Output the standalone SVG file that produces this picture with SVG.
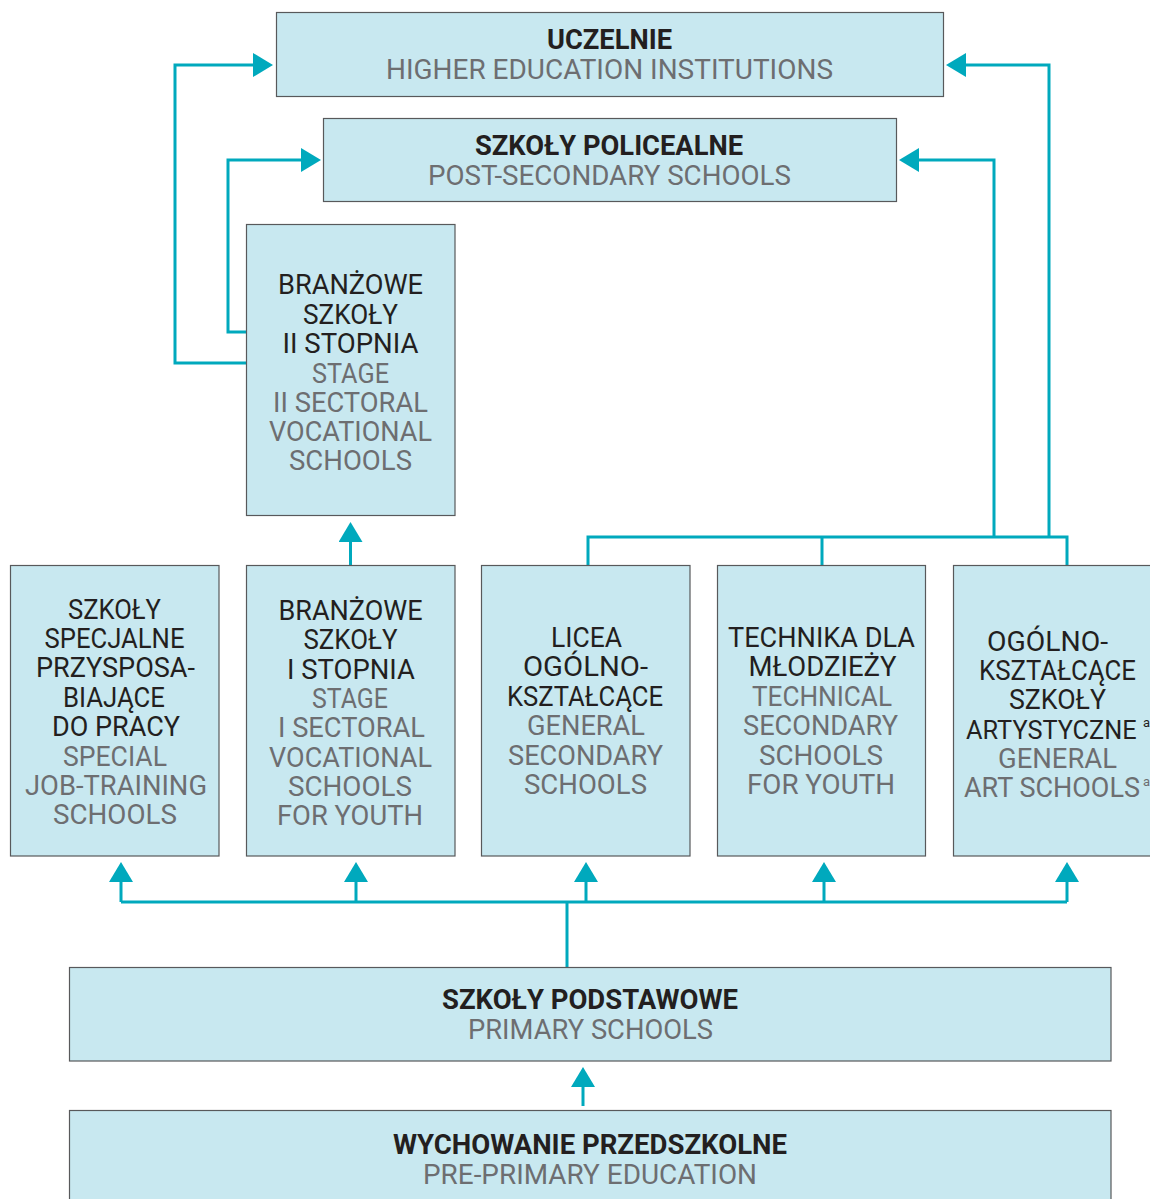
<svg xmlns="http://www.w3.org/2000/svg" width="1150" height="1199" viewBox="0 0 1150 1199">
<style>
.box{fill:#c8e8f0;stroke:#58595b;stroke-width:1.2}
.t{font-family:Roboto,"Liberation Sans",sans-serif;font-size:27px;text-anchor:middle}
.s{font-family:Roboto,"Liberation Sans",sans-serif;font-size:27px;text-anchor:start}
.sup{font-family:Roboto,"Liberation Sans",sans-serif;font-size:13px;text-anchor:start}
.k{fill:#231f20}
.g{fill:#6d6e71}
.b{font-weight:700}
.c{fill:none;stroke:#00a9bd;stroke-width:3;stroke-linejoin:miter}
</style>
<defs>
<marker id="ah" viewBox="0 0 20 24" refX="0" refY="12" markerWidth="20" markerHeight="24" markerUnits="userSpaceOnUse" orient="auto">
<path d="M0,0 L20,12 L0,24 Z" fill="#00a9bd"/>
</marker>
</defs>
<rect width="1150" height="1199" fill="#ffffff"/>

<g id="connectors">
<path class="c" d="M246,363 H175 V65 H253" marker-end="url(#ah)"/>
<path class="c" d="M246,332 H228 V160 H301" marker-end="url(#ah)"/>
<path class="c" d="M1049,537 V65 H966" marker-end="url(#ah)"/>
<path class="c" d="M994,537 V160 H919" marker-end="url(#ah)"/>
<path class="c" d="M588,565 V537 H1067 V565"/>
<path class="c" d="M822,537 V565"/>
<path class="c" d="M350.5,565 V542" marker-end="url(#ah)"/>
<path class="c" d="M121,902 H1067"/>
<path class="c" d="M567,967 V902"/>
<path class="c" d="M121,902 V882" marker-end="url(#ah)"/>
<path class="c" d="M356,902 V882" marker-end="url(#ah)"/>
<path class="c" d="M586,902 V882" marker-end="url(#ah)"/>
<path class="c" d="M824,902 V882" marker-end="url(#ah)"/>
<path class="c" d="M1067,902 V882" marker-end="url(#ah)"/>
<path class="c" d="M583,1106 V1087" marker-end="url(#ah)"/>
</g>

<g id="uczelnie">
<rect class="box" x="276.5" y="12.5" width="667" height="84"/>
<text class="t k b" x="609.5" y="48.5" textLength="125" lengthAdjust="spacingAndGlyphs">UCZELNIE</text>
<text class="t g" x="609.5" y="78.5" textLength="447" lengthAdjust="spacingAndGlyphs">HIGHER EDUCATION INSTITUTIONS</text>
</g>

<g id="policealne">
<rect class="box" x="323.5" y="118.5" width="573" height="83"/>
<text class="t k b" x="609" y="155" textLength="268" lengthAdjust="spacingAndGlyphs">SZKOŁY POLICEALNE</text>
<text class="t g" x="609.5" y="184.5" textLength="363" lengthAdjust="spacingAndGlyphs">POST-SECONDARY SCHOOLS</text>
</g>

<g id="branzowe2">
<rect class="box" x="246.5" y="224.5" width="208.5" height="291"/>
<text class="t k" x="350.5" y="294" textLength="145" lengthAdjust="spacingAndGlyphs">BRANŻOWE</text>
<text class="t k" x="350.5" y="323.5" textLength="95" lengthAdjust="spacingAndGlyphs">SZKOŁY</text>
<text class="t k" x="350.5" y="353" textLength="136" lengthAdjust="spacingAndGlyphs">II STOPNIA</text>
<text class="t g" x="350.5" y="382.5" textLength="77" lengthAdjust="spacingAndGlyphs">STAGE</text>
<text class="t g" x="350.5" y="412" textLength="155" lengthAdjust="spacingAndGlyphs">II SECTORAL</text>
<text class="t g" x="350.5" y="441" textLength="163" lengthAdjust="spacingAndGlyphs">VOCATIONAL</text>
<text class="t g" x="350.5" y="470" textLength="123" lengthAdjust="spacingAndGlyphs">SCHOOLS</text>
</g>

<g id="specjalne">
<rect class="box" x="10.5" y="565.5" width="208.5" height="290.5"/>
<text class="t k" x="114.5" y="618.5" textLength="93" lengthAdjust="spacingAndGlyphs">SZKOŁY</text>
<text class="t k" x="114.5" y="648" textLength="140" lengthAdjust="spacingAndGlyphs">SPECJALNE</text>
<text class="t k" x="115.5" y="677.3" textLength="159" lengthAdjust="spacingAndGlyphs">PRZYSPOSA-</text>
<text class="t k" x="114" y="706.7" textLength="102" lengthAdjust="spacingAndGlyphs">BIAJĄCE</text>
<text class="t k" x="116" y="736" textLength="128" lengthAdjust="spacingAndGlyphs">DO PRACY</text>
<text class="t g" x="115" y="765.5" textLength="104" lengthAdjust="spacingAndGlyphs">SPECIAL</text>
<text class="t g" x="116" y="795" textLength="182" lengthAdjust="spacingAndGlyphs">JOB-TRAINING</text>
<text class="t g" x="115" y="824.3" textLength="124" lengthAdjust="spacingAndGlyphs">SCHOOLS</text>
</g>

<g id="branzowe1">
<rect class="box" x="246.5" y="565.5" width="208.5" height="290.5"/>
<text class="t k" x="350.5" y="620" textLength="144" lengthAdjust="spacingAndGlyphs">BRANŻOWE</text>
<text class="t k" x="350.5" y="649.3" textLength="94" lengthAdjust="spacingAndGlyphs">SZKOŁY</text>
<text class="t k" x="351" y="678.6" textLength="128" lengthAdjust="spacingAndGlyphs">I STOPNIA</text>
<text class="t g" x="350" y="708" textLength="76" lengthAdjust="spacingAndGlyphs">STAGE</text>
<text class="t g" x="351.5" y="737.3" textLength="147" lengthAdjust="spacingAndGlyphs">I SECTORAL</text>
<text class="t g" x="350.5" y="766.6" textLength="163" lengthAdjust="spacingAndGlyphs">VOCATIONAL</text>
<text class="t g" x="350" y="796" textLength="124" lengthAdjust="spacingAndGlyphs">SCHOOLS</text>
<text class="t g" x="350" y="825.3" textLength="146" lengthAdjust="spacingAndGlyphs">FOR YOUTH</text>
</g>

<g id="licea">
<rect class="box" x="481.5" y="565.5" width="208.5" height="290.5"/>
<text class="t k" x="586.5" y="646.5" textLength="71" lengthAdjust="spacingAndGlyphs">LICEA</text>
<text class="t k" x="585.5" y="676" textLength="125" lengthAdjust="spacingAndGlyphs">OGÓLNO-</text>
<text class="t k" x="585" y="705.5" textLength="156" lengthAdjust="spacingAndGlyphs">KSZTAŁCĄCE</text>
<text class="t g" x="586" y="735" textLength="118" lengthAdjust="spacingAndGlyphs">GENERAL</text>
<text class="t g" x="585.5" y="764.5" textLength="155" lengthAdjust="spacingAndGlyphs">SECONDARY</text>
<text class="t g" x="585.5" y="793.5" textLength="123" lengthAdjust="spacingAndGlyphs">SCHOOLS</text>
</g>

<g id="technika">
<rect class="box" x="717.5" y="565.5" width="208" height="290.5"/>
<text class="t k" x="821.5" y="646.5" textLength="187" lengthAdjust="spacingAndGlyphs">TECHNIKA DLA</text>
<text class="t k" x="822.5" y="676" textLength="148" lengthAdjust="spacingAndGlyphs">MŁODZIEŻY</text>
<text class="t g" x="822" y="705.5" textLength="140" lengthAdjust="spacingAndGlyphs">TECHNICAL</text>
<text class="t g" x="820.5" y="735" textLength="155" lengthAdjust="spacingAndGlyphs">SECONDARY</text>
<text class="t g" x="821" y="764.5" textLength="124" lengthAdjust="spacingAndGlyphs">SCHOOLS</text>
<text class="t g" x="821" y="793.5" textLength="148" lengthAdjust="spacingAndGlyphs">FOR YOUTH</text>
</g>

<g id="artystyczne">
<rect class="box" x="953.5" y="565.5" width="208" height="290.5"/>
<text class="t k" x="1047.5" y="650.5" textLength="121" lengthAdjust="spacingAndGlyphs">OGÓLNO-</text>
<text class="t k" x="1057.5" y="680" textLength="157" lengthAdjust="spacingAndGlyphs">KSZTAŁCĄCE</text>
<text class="t k" x="1057.5" y="709" textLength="97" lengthAdjust="spacingAndGlyphs">SZKOŁY</text>
<text class="s k" x="966" y="738.5" style="font-size:25.3px">ARTYSTYCZNE</text>
<text class="sup k" x="1143" y="727">a</text>
<text class="t g" x="1057.5" y="768" textLength="119" lengthAdjust="spacingAndGlyphs">GENERAL</text>
<text class="s g" x="964" y="797" textLength="176" lengthAdjust="spacingAndGlyphs">ART SCHOOLS</text>
<text class="sup g" x="1143" y="786">a</text>
</g>

<g id="podstawowe">
<rect class="box" x="69.5" y="967.5" width="1041.5" height="93.5"/>
<text class="t k b" x="590" y="1009" textLength="296" lengthAdjust="spacingAndGlyphs">SZKOŁY PODSTAWOWE</text>
<text class="t g" x="590.5" y="1038.5" textLength="245" lengthAdjust="spacingAndGlyphs">PRIMARY SCHOOLS</text>
</g>

<g id="przedszkolne">
<rect class="box" x="69.5" y="1110.5" width="1041.5" height="100"/>
<text class="t k b" x="590" y="1154" textLength="394" lengthAdjust="spacingAndGlyphs">WYCHOWANIE PRZEDSZKOLNE</text>
<text class="t g" x="590" y="1183.5" textLength="334" lengthAdjust="spacingAndGlyphs">PRE-PRIMARY EDUCATION</text>
</g>
</svg>
